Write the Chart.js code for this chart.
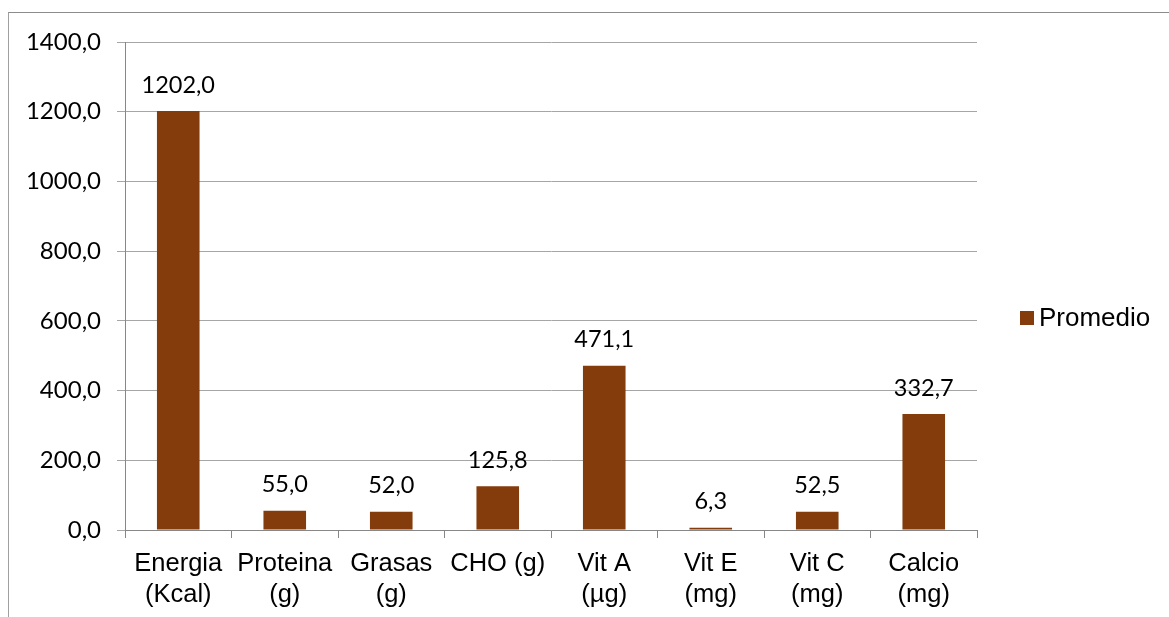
<!DOCTYPE html>
<html>
<head>
<meta charset="utf-8">
<script src="https://cdn.jsdelivr.net/npm/chart.js@4.4.0/dist/chart.umd.min.js"></script>
<style>
  html, body { margin: 0; padding: 0; background: #fff; overflow: hidden; }
  #frame { position: absolute; left: 8px; top: 12px; width: 1300px; height: 700px;
           border-top: 1px solid #8c8c8c; border-left: 1px solid #a0a0a0; }
  #wrap { position: absolute; left: 0; top: 0; width: 1169px; height: 617px; }
</style>
</head>
<body>
<div id="frame"></div>
<div id="wrap"><canvas id="chart"></canvas></div>
<script>
const categories = [
  ["Energia", "(Kcal)"],
  ["Proteina", "(g)"],
  ["Grasas", "(g)"],
  ["CHO (g)"],
  ["Vit A", "(\u00b5g)"],
  ["Vit E", "(mg)"],
  ["Vit C", "(mg)"],
  ["Calcio", "(mg)"]
];
const promedio = [1202.0, 55.0, 52.0, 125.8, 471.1, 6.3, 52.5, 332.7];
const seriesName = "Promedio";
const barColor = "#843C0C";

function fmt(v){
  return v.toFixed(1).replace(".", ",");
}

const valueLabels = {
  id: "valueLabels",
  afterDatasetsDraw(chart){
    const ctx = chart.ctx;
    const meta = chart.getDatasetMeta(0);
    ctx.save();
    ctx.font = "23.5px Lato";
    ctx.fillStyle = "#000";
    ctx.textAlign = "center";
    ctx.textBaseline = "middle";
    meta.data.forEach((bar, i)=>{
      ctx.fillText(fmt(promedio[i]), bar.x, bar.y - 26);
    });
    ctx.restore();
  }
};

const sideLegend = {
  id: "sideLegend",
  afterDraw(chart){
    const ctx = chart.ctx;
    ctx.save();
    ctx.fillStyle = barColor;
    ctx.fillRect(1020, 311, 14, 14);
    ctx.fillStyle = "#000";
    ctx.font = "26px 'Liberation Sans'";
    ctx.textBaseline = "middle";
    ctx.textAlign = "left";
    ctx.fillText(seriesName, 1039, 319);
    ctx.restore();
  }
};

new Chart(document.getElementById("chart"), {
  type: "bar",
  data: {
    labels: categories,
    datasets: [{
      label: seriesName,
      data: promedio,
      backgroundColor: barColor,
      categoryPercentage: 1,
      barPercentage: 0.4
    }]
  },
  options: {
    responsive: true,
    maintainAspectRatio: false,
    animation: false,
    layout: { padding: { left: 0, right: 192, top: 42, bottom: 0 } },
    plugins: {
      legend: { display: false },
      tooltip: { enabled: false }
    },
    scales: {
      x: {
        offset: true,
        afterFit: s => { s.height = 87; },
        grid: {
          offset: true,
          drawOnChartArea: false,
          color: "#878787",
          tickLength: 8
        },
        border: { color: "#878787", width: 1 },
        ticks: {
          color: "#000",
          padding: 10,
          maxRotation: 0,
          autoSkip: false,
          font: { family: "'Liberation Sans'", size: 25.5, lineHeight: 1.22 }
        }
      },
      y: {
        min: 0,
        max: 1400,
        afterFit: s => { s.width = 125; },
        grid: { color: "#a6a6a6", tickLength: 8 },
        border: { color: "#878787", width: 1 },
        ticks: {
          stepSize: 200,
          color: "#000",
          padding: 16,
          font: { family: "Lato", size: 24 },
          callback: v => fmt(v)
        }
      }
    }
  },
  plugins: [valueLabels, sideLegend]
});
</script>
</body>
</html>
